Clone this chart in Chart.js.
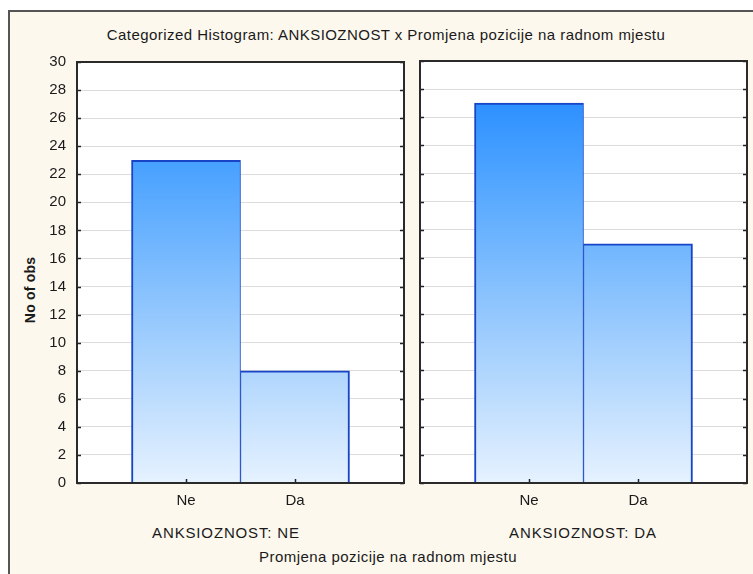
<!DOCTYPE html>
<html><head><meta charset="utf-8">
<script src="https://cdn.jsdelivr.net/npm/chart.js@4"></script>
<style>
body{margin:0;background:#fff;width:753px;height:574px;overflow:hidden;position:relative;font-family:"Liberation Sans",Arial,sans-serif;}
#frame{position:absolute;left:8px;top:10px;width:780px;height:600px;border:2px solid #555;background:#fdf8ee;box-sizing:border-box;}
.lbl{position:absolute;white-space:nowrap;color:#1a1a1a;font-size:15px;line-height:16px;letter-spacing:0.45px;transform:translateX(-50%);}
.box{position:absolute;}
</style></head><body>
<div id="frame"></div>
<div class="lbl" style="left:386px;top:27px">Categorized Histogram: ANKSIOZNOST x Promjena pozicije na radnom mjestu</div>
<div class="lbl" style="left:30px;top:282px;transform:translateX(-50%) rotate(-90deg);font-weight:bold;font-size:14px;letter-spacing:0.2px">No of obs</div>
<div class="lbl" id="p1" style="left:226px;top:525px;letter-spacing:0.85px"></div>
<div class="lbl" id="p2" style="left:583px;top:525px;letter-spacing:0.85px"></div>
<div class="lbl" style="left:388px;top:549px">Promjena pozicije na radnom mjestu</div>
<div class="box" style="left:10px;top:42px;width:400px;height:478px"><canvas id="c1"></canvas></div>
<div class="box" style="left:410px;top:50px;width:343px;height:470px"><canvas id="c2"></canvas></div>
<script>
const categories = ['Ne', 'Da'];
const panelLabels = ['ANKSIOZNOST: NE', 'ANKSIOZNOST: DA'];
const countsAnxNe = [23, 8];
const countsAnxDa = [27, 17];
const yTickValues = [0, 2, 4, 6, 8, 10, 12, 14, 16, 18, 20, 22, 24, 26, 28, 30];

document.getElementById('p1').textContent = panelLabels[0];
document.getElementById('p2').textContent = panelLabels[1];

const framePlugin = {
  id: 'framePlugin',
  beforeDraw(chart) {
    const a = chart.chartArea, ctx = chart.ctx;
    ctx.save(); ctx.fillStyle = '#ffffff';
    ctx.fillRect(a.left, a.top, a.right - a.left, a.bottom - a.top);
    ctx.restore();
  },
  afterDraw(chart) {
    const a = chart.chartArea, ctx = chart.ctx;
    const ys = chart.scales.y, xs = chart.scales.x;
    ctx.save();
    ctx.strokeStyle = '#222'; ctx.lineWidth = 1.5;
    yTickValues.forEach(v => {
      const p = Math.round(ys.getPixelForValue(v)) + 0.5;
      ctx.beginPath(); ctx.moveTo(a.left, p); ctx.lineTo(a.left + 4, p); ctx.stroke();
      ctx.beginPath(); ctx.moveTo(a.right, p); ctx.lineTo(a.right - 4, p); ctx.stroke();
    });
    categories.forEach((c, i) => {
      const p = Math.round(xs.getPixelForValue(i + 1)) + 0.5;
      ctx.beginPath(); ctx.moveTo(p, a.bottom); ctx.lineTo(p, a.bottom - 4); ctx.stroke();
    });
    ctx.strokeStyle = '#2a2a2a'; ctx.lineWidth = 2;
    ctx.strokeRect(a.left, a.top, a.right - a.left, a.bottom - a.top);
    ctx.restore();
  }
};

function grad(ctx) {
  const a = ctx.chart.chartArea;
  if (!a) return '#6ab0ff';
  const g = ctx.chart.ctx.createLinearGradient(0, a.top, 0, a.bottom);
  g.addColorStop(0, '#1a84ff');
  g.addColorStop(0.25, '#4aa2ff');
  g.addColorStop(0.7, '#a8d2fd');
  g.addColorStop(1, '#e6f2ff');
  return g;
}

function makeChart(id, counts, showY, leftW, topPad) {
  return new Chart(document.getElementById(id), {
    type: 'bar',
    data: {
      datasets: [{
        data: counts.map((v, i) => ({ x: i + 1, y: v })),
        backgroundColor: grad,
        borderColor: '#1845c8',
        borderWidth: [{ left: 2, right: 1, top: 2, bottom: 0 }, { left: 1, right: 2, top: 2, bottom: 0 }],
        borderSkipped: false,
        barPercentage: 1,
        categoryPercentage: 1
      }]
    },
    options: {
      responsive: true, maintainAspectRatio: false, animation: false,
      layout: { padding: { top: topPad, right: 6, left: 0, bottom: 0 } },
      plugins: { legend: { display: false }, tooltip: { enabled: false } },
      scales: {
        x: {
          type: 'linear', min: 0, max: 3, offset: false,
          afterBuildTicks: s => { s.ticks = categories.map((c, i) => ({ value: i + 1 })); },
          afterFit: s => { s.height = 37; },
          grid: { display: false, offset: false },
          border: { display: false },
          ticks: { callback: v => categories[v - 1] || '', color: '#1a1a1a', padding: 1, font: { family: 'Liberation Sans', size: 15 }, maxRotation: 0 }
        },
        y: {
          min: 0, max: 30,
          afterBuildTicks: s => { s.ticks = yTickValues.map(v => ({ value: v })); },
          afterFit: s => { s.width = leftW; },
          grid: { color: '#dcdcdc', lineWidth: 1, drawTicks: false },
          border: { display: false },
          ticks: { display: showY, color: '#1a1a1a', padding: 11, font: { family: 'Liberation Sans', size: 15 } }
        }
      }
    },
    plugins: [framePlugin]
  });
}

makeChart('c1', countsAnxNe, true, 67, 0);
makeChart('c2', countsAnxDa, false, 10, 11);
</script>
</body></html>
